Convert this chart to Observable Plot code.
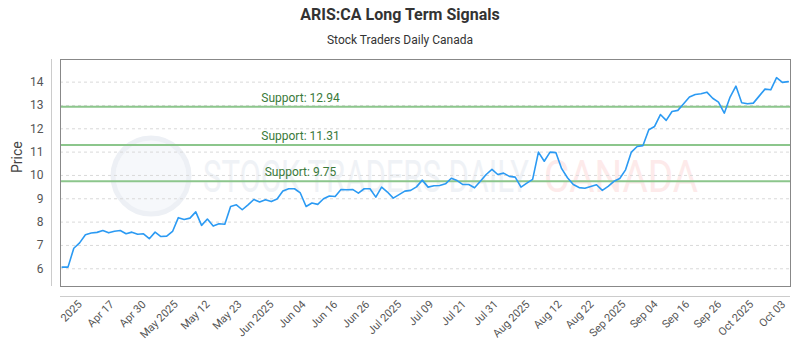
<!DOCTYPE html>
<html>
<head>
<meta charset="utf-8">
<script src="https://cdn.jsdelivr.net/npm/d3@7"></script>
<script src="https://cdn.jsdelivr.net/npm/@observablehq/plot@0.6"></script>
<style>
  body { margin: 0; background: #fff; font-family: Roboto, "Noto Sans", sans-serif; }
  #wrap { width: 800px; height: 350px; position: relative; overflow: hidden; }
  .title { height: 30px; line-height: 30px; text-align: center; font-weight: bold; font-size: 16px; color: #333; }
  .subtitle { height: 20px; line-height: 20px; text-align: center; font-size: 12px; color: #333; }
</style>
</head>
<body>
<div id="wrap">
  <div class="title">ARIS:CA Long Term Signals</div>
  <div class="subtitle">Stock Traders Daily Canada</div>
  <div id="chart"></div>
</div>
<script>
const prices = [
  6.07, 6.07, 6.88, 7.11, 7.46, 7.53, 7.56, 7.64, 7.54, 7.61,
  7.64, 7.50, 7.57, 7.48, 7.50, 7.29, 7.57, 7.38, 7.40, 7.60,
  8.19, 8.11, 8.17, 8.44, 7.86, 8.13, 7.83, 7.93, 7.91, 8.67,
  8.74, 8.53, 8.74, 8.97, 8.86, 8.96, 8.88, 8.99, 9.33, 9.43,
  9.43, 9.25, 8.67, 8.82, 8.76, 9.00, 9.12, 9.10, 9.40, 9.39,
  9.40, 9.24, 9.43, 9.43, 9.07, 9.50, 9.29, 9.03, 9.18, 9.33,
  9.36, 9.51, 9.80, 9.50, 9.56, 9.57, 9.64, 9.88, 9.78, 9.61,
  9.61, 9.47, 9.75, 10.04, 10.26, 10.04, 10.10, 9.96, 9.93, 9.50,
  9.67, 9.83, 11.00, 10.61, 11.00, 10.98, 10.29, 9.90, 9.61, 9.48,
  9.45, 9.53, 9.60, 9.36, 9.53, 9.75, 9.87, 10.24, 11.00, 11.24,
  11.28, 11.96, 12.10, 12.61, 12.36, 12.74, 12.79, 13.07, 13.36, 13.47,
  13.50, 13.57, 13.31, 13.14, 12.67, 13.36, 13.83, 13.12, 13.07, 13.10,
  13.40, 13.70, 13.67, 14.19, 13.99, 14.02
];
const supportLevels = [12.94, 11.31, 9.75];
const yTicks = [6, 7, 8, 9, 10, 11, 12, 13, 14];
const xTickPositions = [3.1, 8.6, 14.1, 19.6, 25.1, 30.6, 36.1, 41.6, 47.1, 52.6, 58.1, 63.6,
  69.2, 74.7, 80.2, 85.7, 91.2, 96.7, 102.2, 107.7, 113.2, 118.7, 124.2];
const xTickLabels = ["2025", "Apr 17", "Apr 30", "May 2025", "May 12", "May 23", "Jun 2025",
  "Jun 04", "Jun 16", "Jun 26", "Jul 2025", "Jul 09", "Jul 21", "Jul 31", "Aug 2025", "Aug 12",
  "Aug 22", "Sep 2025", "Sep 04", "Sep 16", "Sep 26", "Oct 2025", "Oct 03"];
const xDomain = [-0.29, 125.4];
const yDomain = [5.24, 14.97];

const data = prices.map((p, i) => ({i, p}));

const chart = Plot.plot({
  width: 800,
  height: 300,
  marginTop: 9,
  marginBottom: 64,
  marginLeft: 60,
  marginRight: 10,
  style: {fontFamily: "Roboto, 'Noto Sans', sans-serif", fontSize: "12px", background: "transparent"},
  x: {domain: xDomain},
  y: {domain: yDomain},
  marks: [
    Plot.gridY(yTicks, {stroke: "#d9d9d9", strokeOpacity: 1, strokeDasharray: "3,3"}),
    Plot.ruleY(supportLevels, {stroke: "#8cc68c", strokeWidth: 2}),
    Plot.text(supportLevels, {y: d => d, text: d => `Support: ${d}`, frameAnchor: "left", textAnchor: "middle", dx: 240, dy: -9, fill: "#3a7a3a", fontSize: 12}),
    Plot.line(data, {x: "i", y: "p", stroke: "#2b9af3", strokeWidth: 1.6}),
    Plot.frame({stroke: "#888"}),
    Plot.ruleX([xDomain[0]], {dx: -9, stroke: "#ccc"}),
    Plot.ruleY([yDomain[0]], {dy: 10, stroke: "#ccc"}),
    Plot.axisY(yTicks, {tickSize: 0, tickPadding: 17, label: null, fontSize: 12, fill: "#555"}),
    Plot.axisX(xTickPositions, {tickFormat: d => xTickLabels[xTickPositions.indexOf(d)], tickRotate: -45, tickSize: 0, tickPadding: 16, label: null, fontSize: 11, fill: "#555"}),
    Plot.text(["Price"], {frameAnchor: "left", dx: -43, rotate: -90, fontSize: 14, fill: "#444"})
  ]
});

// faint watermark behind the chart
const svg = d3.select(chart);
const wm = svg.insert("g", ":first-child").attr("pointer-events", "none").attr("text-anchor", "start");
wm.append("circle").attr("cx", 151).attr("cy", 126).attr("r", 38)
  .attr("fill", "#f6f8fb").attr("stroke", "#edf0f5").attr("stroke-width", 5);
wm.append("text").attr("x", 203).attr("y", 142).attr("font-size", 44)
  .attr("font-family", "Roboto, sans-serif").attr("textLength", 326).attr("lengthAdjust", "spacingAndGlyphs")
  .attr("fill", "#eff2f6").text("STOCK TRADERS DAILY");
wm.append("text").attr("x", 544).attr("y", 142).attr("font-size", 44)
  .attr("font-family", "Roboto, sans-serif").attr("textLength", 154).attr("lengthAdjust", "spacingAndGlyphs")
  .attr("fill", "#fdeaea").text("CANADA");

document.getElementById("chart").appendChild(chart);
</script>
</body>
</html>
